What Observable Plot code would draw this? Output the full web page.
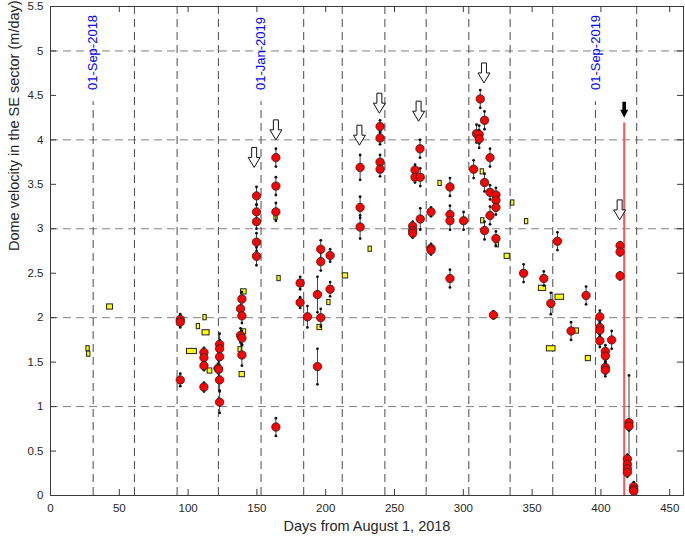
<!DOCTYPE html>
<html><head><meta charset="utf-8">
<script src="https://cdn.jsdelivr.net/npm/d3@7"></script>
<script src="https://cdn.jsdelivr.net/npm/@observablehq/plot@0.6"></script>
<style>body{margin:0;background:#fff}</style>
</head><body><div id="chart"></div>
<script>
// ---------- data ----------
const xTicks = [0, 50, 100, 150, 200, 250, 300, 350, 400, 450];
const yTicks = [0, 0.5, 1, 1.5, 2, 2.5, 3, 3.5, 4, 4.5, 5, 5.5];
const yGrid = [1, 2, 3, 4, 5];
const monthDays = [31, 61, 92, 122, 153, 184, 212, 243, 273, 304, 334, 365, 396, 426];
const dateLabelDays = [31, 153, 396];
const dateLabels = ["01-Sep-2018", "01-Jan-2019", "01-Sep-2019"];

// red circles: day, velocity (m/day), error half-length
const redDay = [94.3,94.3,94.3,111.5,111.5,111.5,111.5,121.7,122.9,122.9,122.9,122.9,122.9,122.2,
  138.1,139.1,139.1,138.1,139.1,139.1,149.7,149.7,149.7,149.7,149.7,163.8,163.8,163.8,163.8,
  181.4,181.4,186.7,194.0,194.0,196.4,196.4,196.4,203.2,203.2,225.0,225.0,225.0,
  239.5,239.5,239.5,239.5,268.5,264.9,264.9,268.7,268.7,263.2,263.2,263.2,276.5,276.5,276.5,
  290.3,290.3,290.3,290.3,300.2,312.3,315.4,309.6,311.5,311.5,319.4,307.5,315.4,319.4,323.7,
  323.7,323.7,319.4,315.4,323.7,321.9,343.8,358.5,363.6,368.4,378.3,389.2,
  399.2,399.2,399.2,399.2,407.8,403.2,403.2,403.2,403.2,413.9,413.9,413.9,
  420.4,420.4,419.2,419.2,419.2,419.2,423.8,423.8,423.8];
const redVel = [1.98,1.95,1.30,1.61,1.55,1.46,1.22,1.43,1.70,1.65,1.56,1.30,1.05,1.42,
  2.10,2.21,2.02,1.80,1.77,1.58,3.37,3.19,3.08,2.85,2.69,3.80,3.48,3.19,0.77,
  2.39,2.17,2.01,2.26,1.45,2.77,2.63,2.00,2.70,2.32,3.69,3.24,3.02,
  4.15,4.02,3.75,3.67,3.90,3.66,3.58,3.58,3.11,3.03,2.98,2.95,3.19,2.78,2.76,
  3.47,3.16,3.09,2.44,3.09,4.46,4.22,4.07,4.06,4.01,3.80,3.67,3.52,3.41,3.38,
  3.32,3.24,3.15,2.98,2.89,2.03,2.50,2.44,2.16,2.86,1.85,2.25,
  2.01,1.89,1.86,1.74,1.75,1.62,1.57,1.44,1.41,2.81,2.74,2.47,
  0.82,0.78,0.41,0.35,0.30,0.26,0.10,0.07,0.05];
const redErr = [0.06,0.06,0.07,0.05,0.05,0.05,0.05,0.05,0.12,0.10,0.10,0.12,0.12,0.10,
  0.08,0.08,0.08,0.08,0.08,0.12,0.10,0.08,0.08,0.10,0.10,0.10,0.10,0.10,0.10,
  0.07,0.06,0.12,0.20,0.20,0.10,0.10,0.10,0.07,0.08,0.14,0.12,0.13,
  0.07,0.07,0.08,0.08,0.10,0.06,0.06,0.10,0.12,0.05,0.05,0.05,0.05,0.05,0.05,
  0.10,0.10,0.10,0.10,0.10,0.10,0.10,0.10,0.10,0.10,0.10,0.10,0.10,0.08,0.08,
  0.08,0.08,0.10,0.10,0.08,0.04,0.10,0.08,0.12,0.10,0.10,0.10,
  0.07,0.07,0.07,0.07,0.10,0.07,0.07,0.07,0.07,0.04,0.04,0.04,
  0.53,0.05,0.05,0.05,0.05,0.05,0.05,0.05,0.04];

// yellow rectangles: start day, end day, velocity
const yelStart = [26.1,26.6,41.1,99.2,106.3,111.1,110.5,114.2,136.6,138.4,138.6,137.4,162.7,164.9,
  201.1,194.0,212.4,231.1,281.9,312.6,312.9,323.5,330.0,334.7,344.8,354.9,367.0,360.7,380.5,389.0];
const yelEnd = [28.5,29.0,45.4,106.4,108.7,113.5,115.6,117.6,139.0,142.5,142.2,141.3,165.1,167.3,
  203.5,197.4,216.3,233.5,284.3,315.0,315.3,325.9,333.8,337.1,347.2,360.2,373.2,367.0,384.1,392.7];
const yelVel = [1.65,1.59,2.12,1.62,1.90,2.00,1.83,1.40,1.64,2.29,1.84,1.36,3.13,2.44,
  2.17,1.89,2.47,2.77,3.51,3.64,3.09,2.82,2.69,3.29,3.08,2.33,2.23,1.65,1.85,1.54];

// hollow arrows (tip position) and the black arrow + red line
const arrowDay = [148.0, 163.8, 224.5, 239.0, 267.5, 315.0, 413.6];
const arrowTip = [3.69, 4.00, 3.94, 4.30, 4.21, 4.64, 3.10];
const eventDay = 416.9;
const eventTop = 4.19;
const blackArrowTip = 4.25;

// ---------- build tables ----------
const red = redDay.map((d, i) => ({day: d, v: redVel[i], e: redErr[i]}));
const yel = yelStart.map((d, i) => ({x1: d, x2: yelEnd[i], v: yelVel[i]}));
const arrows = arrowDay.map((d, i) => ({day: d, v: arrowTip[i]}));
const labels = dateLabelDays.map((d, i) => ({day: d, text: dateLabels[i]}));

// ---------- layout ----------
const W = 685, H = 544, mL = 50, mR = 2, mT = 6, mB = 49;
const xMax = 460, yMax = 5.5;
const pxX = (W - mL - mR) / xMax, pxY = (H - mT - mB) / yMax;
const tick = 6;
const yTickLen = tick / pxY, xTickLen = tick / pxX;
const labelStop = 4.43; // month line stops under the date label
const halfH = 2.6 / pxY;

const hollowArrow = {draw(ctx) {
  ctx.moveTo(0, 0); ctx.lineTo(6, -10); ctx.lineTo(2.5, -10); ctx.lineTo(2.5, -20);
  ctx.lineTo(-2.5, -20); ctx.lineTo(-2.5, -10); ctx.lineTo(-6, -10); ctx.closePath();
}};
const solidArrow = {draw(ctx) {
  ctx.moveTo(0, 0); ctx.lineTo(4, -8); ctx.lineTo(1.8, -8); ctx.lineTo(1.8, -16);
  ctx.lineTo(-1.8, -16); ctx.lineTo(-1.8, -8); ctx.lineTo(-4, -8); ctx.closePath();
}};

const chart = Plot.plot({
  width: W, height: H, marginLeft: mL, marginRight: mR, marginTop: mT, marginBottom: mB,
  x: {domain: [0, xMax]},
  y: {domain: [0, yMax]},
  style: {fontFamily: "'Liberation Sans', Arial, sans-serif", fontSize: "11.5px", color: "#262626", background: "#fff"},
  marks: [
    Plot.ruleY(yGrid, {stroke: "#808080", strokeWidth: 1, strokeDasharray: "8,5"}),
    Plot.ruleX(monthDays, {y1: 0, y2: d => dateLabelDays.includes(d) ? labelStop : yMax,
      stroke: "#4a4a4a", strokeWidth: 1, strokeDasharray: "8,5"}),
    Plot.text(labels, {x: "day", y: 4.56, text: "text", rotate: -90, textAnchor: "start",
      fill: "#0000ff", fontSize: 13}),
    Plot.rect(yel, {x1: "x1", x2: "x2", y1: d => d.v - halfH, y2: d => d.v + halfH,
      fill: "#ffff00", stroke: "#222", strokeWidth: 1}),
    Plot.ruleX([eventDay], {y1: 0, y2: eventTop, stroke: "#ff5555", strokeWidth: 2}),
    Plot.ruleX(red, {x: "day", y1: d => d.v - d.e, y2: d => d.v + d.e, stroke: "#111", strokeWidth: 0.8}),
    Plot.dot(red, {x: "day", y: d => d.v - d.e, r: 1.4, fill: "#111"}),
    Plot.dot(red, {x: "day", y: d => d.v + d.e, r: 1.4, fill: "#111"}),
    Plot.dot(red, {x: "day", y: "v", r: 4.2, fill: "#ff0000", stroke: "#222", strokeWidth: 0.8}),
    Plot.dot(arrows, {x: "day", y: "v", symbol: hollowArrow, r: 5, fill: "white", stroke: "#111", strokeWidth: 1}),
    Plot.dot([eventDay], {x: d => d, y: blackArrowTip, symbol: solidArrow, r: 5, fill: "#000"}),
    // frame and inward ticks
    Plot.frame({stroke: "#3a3a3a", strokeWidth: 1}),
    Plot.ruleX(xTicks, {y1: 0, y2: yTickLen, stroke: "#3a3a3a"}),
    Plot.ruleX(xTicks, {y1: yMax - yTickLen, y2: yMax, stroke: "#3a3a3a"}),
    Plot.ruleY(yTicks, {x1: 0, x2: xTickLen, stroke: "#3a3a3a"}),
    Plot.ruleY(yTicks, {x1: xMax - xTickLen, x2: xMax, stroke: "#3a3a3a"}),
    Plot.axisX(xTicks, {tickSize: 0, tickPadding: 8, label: null, fill: "#262626"}),
    Plot.axisY(yTicks, {tickSize: 0, tickPadding: 7, label: null, fill: "#262626", tickFormat: d => String(d)}),
    Plot.text(["Days from August 1, 2018"], {frameAnchor: "bottom", dy: 35, fontSize: 14.5, fill: "#262626"}),
    Plot.text(["Dome velocity in the SE sector (m/day)"], {frameAnchor: "left", dx: -36, rotate: -90, fontSize: 14.5, fill: "#262626"})
  ]
});
document.getElementById("chart").appendChild(chart);
</script>
</body></html>
